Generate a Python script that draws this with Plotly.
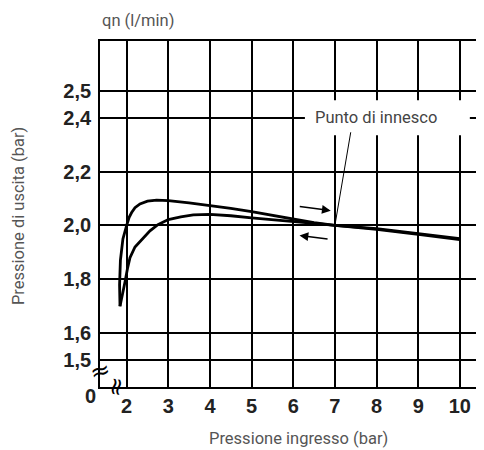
import plotly.graph_objects as go

# pressione ingresso (bar) / pressione di uscita (bar)
x_salita = [1.84, 1.83, 1.85, 1.91, 2.0, 2.06, 2.12, 2.2, 2.32, 2.5, 2.72, 3.0, 3.5, 4.0, 4.5, 5.0, 5.5, 6.0, 6.5, 7.0, 8.0, 9.0, 10.0]
y_salita = [1.70, 1.78, 1.87, 1.95, 2.0, 2.03, 2.048, 2.066, 2.08, 2.09, 2.094, 2.092, 2.084, 2.074, 2.063, 2.051, 2.037, 2.022, 2.01, 2.0, 1.988, 1.970, 1.951]

x_discesa = [1.84, 1.90, 1.96, 2.02, 2.08, 2.2, 2.32, 2.45, 2.56, 2.75, 3.0, 3.3, 3.6, 4.0, 4.5, 5.0, 5.5, 6.0, 6.5, 7.0, 8.0, 9.0, 10.0]
y_discesa = [1.70, 1.74, 1.79, 1.84, 1.88, 1.92, 1.94, 1.965, 1.98, 2.003, 2.022, 2.032, 2.039, 2.041, 2.036, 2.028, 2.022, 2.016, 2.008, 2.0, 1.985, 1.967, 1.947]

x_ticks = [2, 3, 4, 5, 6, 7, 8, 9, 10]
y_ticks = [1.5, 1.6, 1.8, 2.0, 2.2, 2.4, 2.5]
y_labels = ["1,5", "1,6", "1,8", "2,0", "2,2", "2,4", "2,5"]

punto_innesco = (7.0, 2.0)

tick_font = dict(family="Liberation Sans, Arial", size=20, color="#222", weight="bold")
title_font = dict(family="Roboto", size=16.5, color="#555")

fig = go.Figure()

for xs, ys in [(x_salita, y_salita), (x_discesa, y_discesa)]:
    fig.add_trace(go.Scatter(
        x=xs, y=ys, mode="lines",
        line=dict(color="black", width=2.8),
        showlegend=False, hoverinfo="skip"
    ))

# arrows
fig.add_annotation(x=6.9, y=2.055, ax=6.12, ay=2.071, xref="x", yref="y", axref="x", ayref="y",
                   showarrow=True, arrowhead=2, arrowsize=1.1, arrowwidth=1.6, arrowcolor="black", text="")
fig.add_annotation(x=6.15, y=1.963, ax=6.86, ay=1.949, xref="x", yref="y", axref="x", ayref="y",
                   showarrow=True, arrowhead=2, arrowsize=1.1, arrowwidth=1.6, arrowcolor="black", text="")

# label box over the grid
fig.add_shape(type="rect", x0=6.28, x1=10.24, y0=2.335, y1=2.465, xref="x", yref="y",
              fillcolor="white", line=dict(width=0), layer="above")
fig.add_shape(type="line", x0=7.38, y0=2.346, x1=punto_innesco[0], y1=punto_innesco[1],
              xref="x", yref="y", line=dict(color="black", width=1), layer="above")
fig.add_annotation(x=7.98, y=2.4, xref="x", yref="y", text="Punto di innesco", showarrow=False,
                   font=dict(family="Roboto", size=16.5, color="#444"))

# axis break marks and zero
fig.add_annotation(x=1.36, y=1.459, xref="x", yref="y", text="≈", showarrow=False, textangle=-15,
                   font=dict(family="DejaVu Sans", size=24, color="black"))
fig.add_annotation(x=1.74, y=1.40, xref="x", yref="y", text="≈", showarrow=False, textangle=-80,
                   font=dict(family="DejaVu Sans", size=24, color="black"))
fig.add_annotation(x=-0.026, y=-0.027, xref="paper", yref="paper", text="0", showarrow=False,
                   xanchor="center", yanchor="middle", font=tick_font)

# titles
fig.add_annotation(x=0.516, y=-0.148, xref="paper", yref="paper", text="Pressione ingresso (bar)",
                   xanchor="center", yanchor="middle", showarrow=False, font=title_font)
fig.add_annotation(x=-0.2135, y=0.494, xref="paper", yref="paper", text="Pressione di uscita (bar)",
                   xanchor="center", yanchor="middle", showarrow=False, textangle=-90, font=title_font)
fig.add_annotation(x=0, y=1.058, xref="paper", yref="paper", text="qn (l/min)",
                   xanchor="left", yanchor="middle", showarrow=False, font=title_font)

fig.update_xaxes(
    range=[1.36, 10.58], tickvals=x_ticks, ticktext=[str(v) for v in x_ticks],
    showgrid=True, gridcolor="black", gridwidth=1.8, zeroline=False,
    showline=True, linecolor="black", linewidth=1.8, mirror=True,
    ticks="", tickfont=tick_font, ticklabelstandoff=0, automargin=False
)
fig.update_yaxes(
    range=[1.40, 2.685], tickvals=y_ticks, ticktext=y_labels,
    showgrid=True, gridcolor="black", gridwidth=1.8, zeroline=False,
    showline=True, linecolor="black", linewidth=1.8,
    ticks="", tickfont=tick_font, ticklabelstandoff=3, automargin=False
)

# the page puts the figure 8px in from the top-left corner
fig.update_layout(
    width=476, height=442,
    margin=dict(l=92, r=0, t=33, b=63),
    plot_bgcolor="white", paper_bgcolor="white",
    showlegend=False
)

fig.write_html("out.html")
